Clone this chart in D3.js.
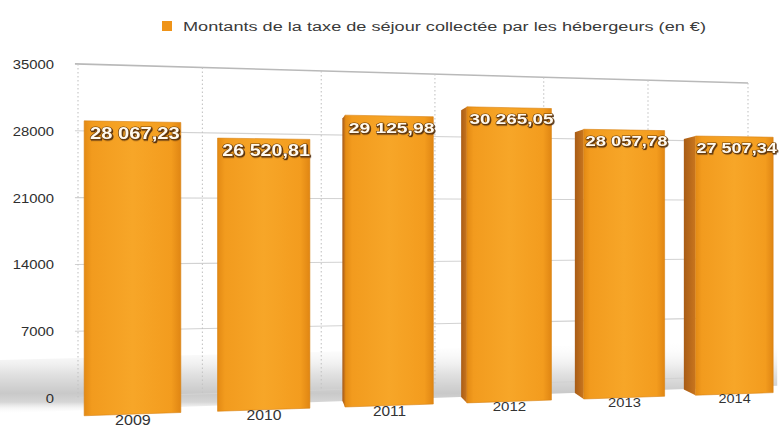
<!DOCTYPE html>
<html>
<head>
<meta charset="utf-8">
<script src="https://cdn.jsdelivr.net/npm/d3@7/dist/d3.min.js"></script>
<style>
  html, body { margin: 0; padding: 0; background: #ffffff; }
  svg { display: block; }
</style>
</head>
<body>
<svg id="chart" width="780" height="428"></svg>
<script>
// ---------------- DATA ----------------
const years = ["2009", "2010", "2011", "2012", "2013", "2014"];
const amounts = [28067.23, 26520.81, 29125.98, 30265.05, 28057.78, 27507.34];
const yTicks = [0, 7000, 14000, 21000, 28000, 35000];
const legendLabel = "Montants de la taxe de séjour collectée par les hébergeurs (en €)";

// ---------------- SETUP ----------------
const svg = d3.select("#chart");
const fr = d3.formatLocale({ decimal: ",", thousands: " ", grouping: [3], currency: ["", " €"] });
const fmt = fr.format(",.2f");

// perspective (rotated chart): horizon and compression factor
const Yh = 218.7, G = 0.14;
const wallPlane = { x0: 78, s: 670 };
const frontPlane = { x0: 65, s: 723 };
function proj(plane, u, yLeft) {
  const w = 1 + G * u;
  return [plane.x0 + plane.s * (1 + G) * u / w, Yh + (yLeft - Yh) / w];
}
const depthOf = u => 1 / (1 + G * u);

const x = d3.scaleBand().domain(years).range([0, 1]).paddingInner(0).paddingOuter(0);
const yWall = d3.scaleLinear().domain([0, 35000]).range([398, 64]);
const yFront = d3.scaleLinear().domain([0, 35000]).range([400.4, 51.4]);
const floorDrop = 16;
const sideDepth = 0.35;

const defs = svg.append("defs");
const gFront = defs.append("linearGradient").attr("id", "barFront").attr("x1", 0).attr("x2", 1).attr("y1", 0).attr("y2", 0);
[[0, "#e38a14"], [0.08, "#f29b1e"], [0.5, "#f7a628"], [0.9, "#f39c1e"], [1, "#e08613"]]
  .forEach(([o, c]) => gFront.append("stop").attr("offset", o).attr("stop-color", c));
const gSide = defs.append("linearGradient").attr("id", "barSide").attr("x1", 0).attr("x2", 1).attr("y1", 0).attr("y2", 0);
[[0, "#a85c16"], [1, "#c9761e"]].forEach(([o, c]) => gSide.append("stop").attr("offset", o).attr("stop-color", c));
const gFloor = defs.append("linearGradient").attr("id", "floor").attr("x1", 0).attr("x2", 0).attr("y1", 0).attr("y2", 1);
[[0, "#ffffff", 0], [0.45, "#e2e2e2", 1], [0.72, "#c9c9c9", 1], [0.84, "#d6d6d6", 1], [1, "#ffffff", 0]]
  .forEach(([o, c, a]) => gFloor.append("stop").attr("offset", o).attr("stop-color", c).attr("stop-opacity", a));
const fShadow = defs.append("filter").attr("id", "txtShadow").attr("x", -0.1).attr("y", -0.3).attr("width", 1.2).attr("height", 1.6);
fShadow.append("feDropShadow").attr("dx", 0.8).attr("dy", 1.2).attr("stdDeviation", 0.6).attr("flood-color", "#4a2a08").attr("flood-opacity", 0.9);

const line = d3.line();
const poly = pts => line(pts) + "Z";

// ---------------- LEGEND ----------------
svg.append("rect").attr("x", 162).attr("y", 21).attr("width", 10).attr("height", 10).attr("fill", "#ef9419");
svg.append("text").attr("x", 183).attr("y", 31)
  .attr("font-family", "Liberation Sans, Arial, sans-serif").attr("font-size", 12.5)
  .attr("fill", "#3a3a3a").attr("textLength", 523).attr("lengthAdjust", "spacingAndGlyphs")
  .text(legendLabel);

// ---------------- WALL ----------------
const wall = svg.append("g");
// floor shading band
const uL = -0.13, vTop = 4200, vBot = -1300;
wall.append("path")
  .attr("d", poly([proj(wallPlane, uL, yWall(vTop)), proj(wallPlane, 1.05, yWall(vTop)),
                   proj(wallPlane, 1.05, yWall(vBot)), proj(wallPlane, uL, yWall(vBot))]))
  .attr("fill", "url(#floor)");

// horizontal gridlines
wall.selectAll("line.h").data(yTicks).join("line").attr("class", "h")
  .each(function (v) {
    const a = proj(wallPlane, -0.004, yWall(v)), b = proj(wallPlane, 1, yWall(v));
    d3.select(this).attr("x1", a[0]).attr("y1", a[1]).attr("x2", b[0]).attr("y2", b[1]);
  })
  .attr("stroke", v => v === 35000 ? "#b9b9b9" : "#d2d2d2")
  .attr("stroke-width", v => v === 35000 ? 1.6 : 1.1);

// vertical dotted gridlines
const vlines = years.map(c => x(c)).concat([1]);
wall.selectAll("line.v").data(vlines).join("line").attr("class", "v")
  .each(function (u) {
    const a = proj(wallPlane, u, yWall(35000)), b = proj(wallPlane, u, yWall(0));
    d3.select(this).attr("x1", a[0]).attr("y1", a[1]).attr("x2", b[0]).attr("y2", b[1]);
  })
  .attr("stroke", "#c4c4c4").attr("stroke-width", 1.1).attr("stroke-dasharray", "1.5,2.5");

// y labels
wall.selectAll("text.yl").data(yTicks).join("text").attr("class", "yl")
  .attr("transform", v => `translate(54,${yWall(v) + 5}) scale(1.14,1)`)
  .attr("text-anchor", "end")
  .attr("font-family", "Liberation Sans, Arial, sans-serif").attr("font-size", 13)
  .attr("fill", "#2e2e2e").text(d => d);

// ---------------- BARS ----------------
const bw = x.bandwidth();
const bars = svg.append("g");
years.forEach((yr, i) => {
  const v = amounts[i];
  const u0 = x(yr) + bw * 0.14, u1 = x(yr) + bw * 0.86, uc = x(yr) + bw * 0.5;
  const ftl = proj(frontPlane, u0, yFront(v)), ftr = proj(frontPlane, u1, yFront(v));
  const fbl = proj(frontPlane, u0, yFront(0) + floorDrop), fbr = proj(frontPlane, u1, yFront(0) + floorDrop);
  // side face
  const wtl = proj(wallPlane, u0, yWall(v)), wbl = proj(wallPlane, u0, yWall(0));
  const btl = [ftl[0] + (wtl[0] - ftl[0]) * sideDepth, ftl[1] + (wtl[1] - ftl[1]) * sideDepth];
  const bbl = [fbl[0] + (wbl[0] - fbl[0]) * sideDepth, fbl[1] + (wbl[1] - fbl[1]) * sideDepth];
  if (btl[0] < ftl[0] - 0.5) {
    bars.append("path").attr("d", poly([btl, ftl, fbl, bbl])).attr("fill", "url(#barSide)");
  }
  bars.append("path").attr("d", poly([ftl, ftr, fbr, fbl])).attr("fill", "url(#barFront)")
    .attr("stroke", "#d98210").attr("stroke-width", 0.6).attr("stroke-linejoin", "round");

  // value label
  const k = depthOf(uc);
  const lp = proj(frontPlane, uc, yFront(v) + 18);
  bars.append("text")
    .attr("transform", `translate(${lp[0] + 2},${lp[1]}) scale(${1.25 * k * 1.02},${k * 1.02})`)
    .attr("text-anchor", "middle")
    .attr("font-family", "Liberation Sans, Arial, sans-serif").attr("font-weight", "bold")
    .attr("font-size", 16).attr("fill", "#fffaf0")
    .attr("stroke", "#6e3f0c").attr("stroke-width", 1.2).attr("paint-order", "stroke")
    .attr("filter", "url(#txtShadow)")
    .text(fmt(v));

  // year label
  const xp = proj(frontPlane, uc, 427);
  bars.append("text")
    .attr("transform", `translate(${xp[0]},${xp[1]}) scale(${1.12 * k * 1.04},${k * 1.04})`)
    .attr("text-anchor", "middle")
    .attr("font-family", "Liberation Sans, Arial, sans-serif").attr("font-size", 14)
    .attr("fill", "#333").text(yr);
});
</script>
</body>
</html>
